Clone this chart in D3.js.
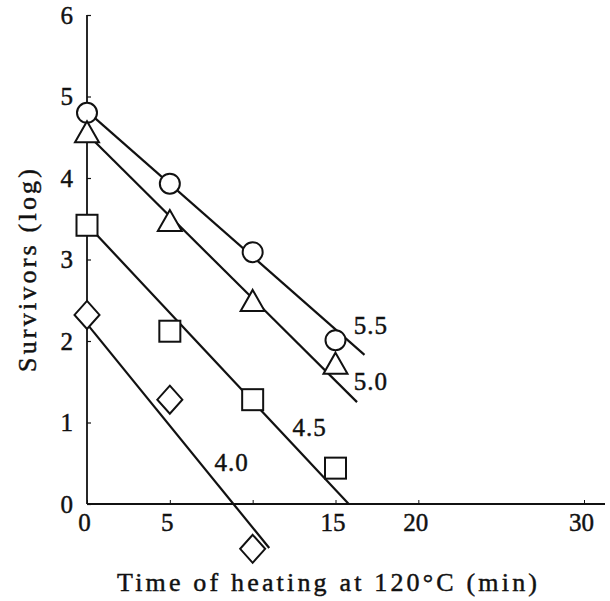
<!DOCTYPE html>
<html>
<head>
<meta charset="utf-8">
<script src="https://cdn.jsdelivr.net/npm/d3@7"></script>
<style>
  html, body { margin: 0; padding: 0; background: #fff; }
  svg { display: block; }
</style>
</head>
<body>
<svg id="chart" width="610" height="601"></svg>
<script>
// ---- data ----
const times = [0, 5, 10, 15];
const phLabels = ["5.5", "5.0", "4.5", "4.0"];
const survivorsPH55 = [4.80, 3.93, 3.09, 2.01];
const survivorsPH50 = [4.55, 3.46, 2.48, 1.71];
const survivorsPH45 = [3.42, 2.12, 1.28, 0.44];
const timesPH40 = [0, 5, 10];
const survivorsPH40 = [2.32, 1.28, -0.55];
// fitted lines: [startTime, startLog, endTime, endLog]
const fitPH55 = [0, 4.82, 16.75, 1.83];
const fitPH50 = [0, 4.54, 16.3, 1.25];
const fitPH45 = [0, 3.43, 15.8, 0];
const fitPH40 = [0, 2.21, 11.0, -0.54];
// label anchor positions [time, log]
const labelPos55 = [16.1, 2.08];
const labelPos50 = [16.1, 1.40];
const labelPos45 = [12.4, 0.84];
const labelPos40 = [7.7, 0.40];
const xTicks = [0, 5, 10, 15, 20, 30];
const xTickLabels = ["0", "5", "", "15", "20", "30"];
const yTicks = [0, 1, 2, 3, 4, 5, 6];
const xTitle = "Time of heating at 120°C (min)";
const yTitle = "Survivors (log)";

const FONT = '"Liberation Serif", "Times New Roman", serif';
const INK = "#111";

const svg = d3.select("#chart");
const x = d3.scaleLinear().domain([0, 30]).range([87, 584]);
const y = d3.scaleLinear().domain([0, 6]).range([504, 15]);

function ink(sel, size) {
  sel.style("font-family", FONT).style("font-size", size + "px")
    .attr("fill", INK).attr("stroke", INK).attr("stroke-width", 0.45);
}

// axes
const xAxis = d3.axisBottom(x).tickValues(xTicks)
  .tickFormat((d, i) => xTickLabels[i]).tickSize(-4).tickSizeOuter(0).tickPadding(9);
const gx = svg.append("g").attr("transform", `translate(0,${y(0)})`).call(xAxis);
gx.select(".domain").remove();
gx.selectAll(".tick line").attr("stroke", INK).attr("stroke-width", 1);
gx.selectAll(".tick text").call(ink, 25).attr("dx", -3);

const yAxis = d3.axisLeft(y).tickValues(yTicks).tickFormat(d3.format("d"))
  .tickSize(-4).tickSizeOuter(0).tickPadding(14);
const gy = svg.append("g").attr("transform", `translate(${x(0)},0)`).call(yAxis);
gy.select(".domain").remove();
gy.selectAll(".tick line").attr("stroke", INK).attr("stroke-width", 1.2);
gy.selectAll(".tick text").call(ink, 25);

svg.append("line").attr("x1", x(0)).attr("x2", 605).attr("y1", y(0)).attr("y2", y(0))
  .attr("stroke", INK).attr("stroke-width", 2.2);
svg.append("line").attr("x1", x(0)).attr("x2", x(0)).attr("y1", y(0)).attr("y2", y(6))
  .attr("stroke", INK).attr("stroke-width", 1.8);

// fitted lines
const fits = [fitPH55, fitPH50, fitPH45, fitPH40];
svg.append("g").selectAll("line").data(fits).join("line")
  .attr("x1", d => x(d[0])).attr("y1", d => y(d[1]))
  .attr("x2", d => x(d[2])).attr("y2", d => y(d[3]))
  .attr("stroke", INK).attr("stroke-width", 2.2);

// markers
const mk = svg.append("g").attr("fill", "#fff").attr("stroke", INK).attr("stroke-width", 2);
mk.selectAll("circle").data(survivorsPH55).join("circle")
  .attr("cx", (d, i) => x(times[i])).attr("cy", d => y(d)).attr("r", 10);
mk.selectAll("path.tri").data(survivorsPH50).join("path").attr("class", "tri")
  .attr("d", (d, i) => `M${x(times[i])},${y(d) - 12} l12,21 l-24,0 Z`);
mk.selectAll("rect").data(survivorsPH45).join("rect")
  .attr("x", (d, i) => x(times[i]) - 10.5).attr("y", d => y(d) - 10.5)
  .attr("width", 21).attr("height", 21);
mk.selectAll("path.dia").data(survivorsPH40).join("path").attr("class", "dia")
  .attr("d", (d, i) => `M${x(timesPH40[i])},${y(d) - 14} l12.5,14 l-12.5,14 l-12.5,-14 Z`);

// line labels
const labelPos = [labelPos55, labelPos50, labelPos45, labelPos40];
svg.append("g").selectAll("text").data(phLabels).join("text")
  .attr("x", (d, i) => x(labelPos[i][0])).attr("y", (d, i) => y(labelPos[i][1]))
  .call(ink, 25).attr("letter-spacing", 1)
  .text(d => d);

// axis titles
svg.append("text").attr("x", 117).attr("y", 591)
  .call(ink, 26)
  .attr("textLength", 420).attr("lengthAdjust", "spacing")
  .text(xTitle);
svg.append("text").attr("transform", "translate(36,372) rotate(-90)")
  .call(ink, 26)
  .attr("textLength", 203).attr("lengthAdjust", "spacing")
  .text(yTitle);
</script>
</body>
</html>
